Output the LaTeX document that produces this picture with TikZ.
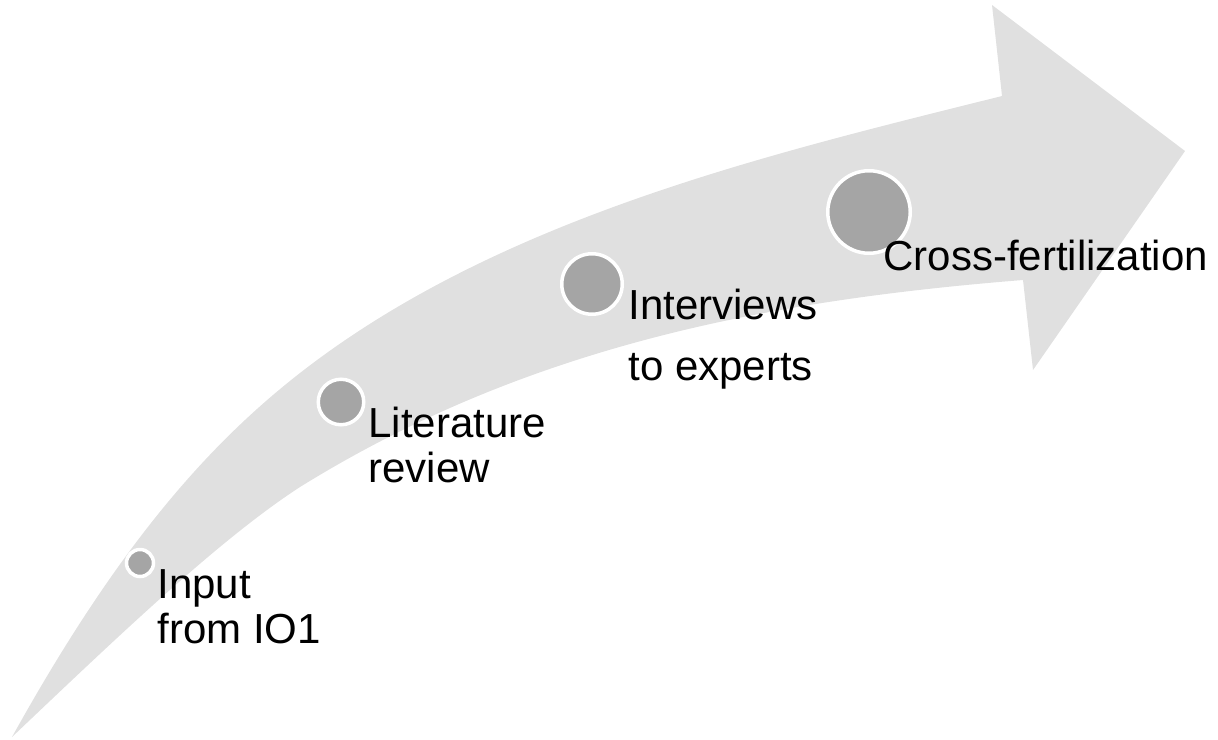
\documentclass[tikz,border=0pt]{standalone}
\usepackage{fontspec}
\setmainfont{Liberation Sans}
\usepackage{tikz}
\usetikzlibrary{positioning}
\definecolor{bandgray}{HTML}{E0E0E0}
\definecolor{dotgray}{HTML}{A5A5A5}
\tikzstyle{band}=[fill=bandgray, draw=none]
\tikzstyle{dot}=[circle, fill=dotgray, draw=white, line width=1.75pt, inner sep=0pt]
\tikzstyle{lab}=[anchor=base west, inner sep=0pt, align=left, font=\fontsize{21}{22.5}\selectfont]

\begin{document}
\begin{tikzpicture}[x=0.5pt,y=-0.5pt]
\useasboundingbox (0,0) rectangle (1218,739);

% curved arrow
\path[band] (12,737) .. controls (112,557) and (200,451) .. (300,373)
  .. controls (500,217) and (772,153.5) .. (1002,96)
  -- (992,5) -- (1185,151) -- (1033,370) -- (1023,280)
  .. controls (773,300) and (530,344.4) .. (300,487)
  .. controls (220,539) and (122,632.5) .. (12,737) -- cycle;

% milestones
\node[dot, minimum size=13.5pt] at (140,563) (dot1) {};
\node[dot, minimum size=22.75pt] at (341,402) (dot2) {};
\node[dot, minimum size=30.25pt] at (592,284) (dot3) {};
\node[dot, minimum size=41.25pt] at (869,212) (dot4) {};

\node[lab] at (157,643) (lab1) {Input\\from IO1};
\node[lab] at (368,482) (lab2) {Literature\\review};
\node[lab] at (628,380) (lab3) {Interviews\\[8pt]to experts};
\node[lab] at (883,270) (lab4) {Cross-fertilization};
\end{tikzpicture}
\end{document}
